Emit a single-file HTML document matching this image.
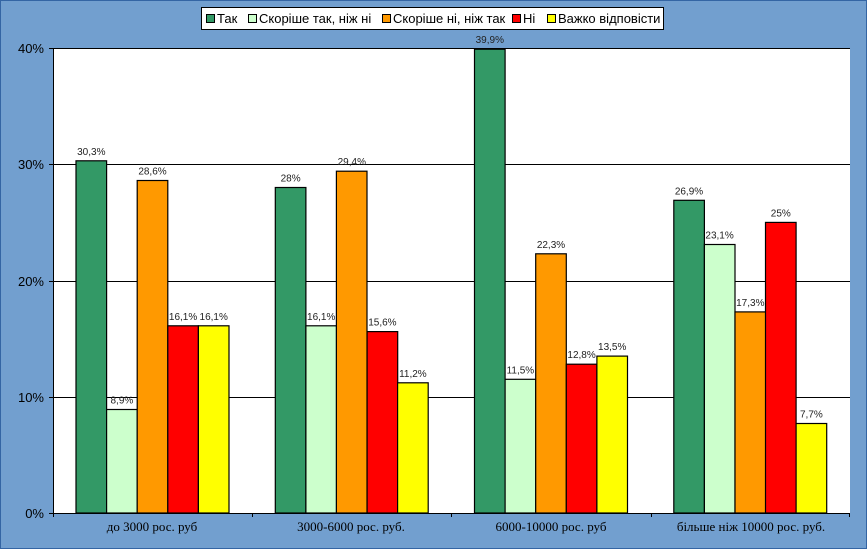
<!DOCTYPE html>
<html><head><meta charset="utf-8"><style>
html,body{margin:0;padding:0;background:#729fcf;}
svg{display:block;font-family:"Liberation Sans",sans-serif;}
</style></head><body>
<svg width="867" height="549" xmlns="http://www.w3.org/2000/svg">
<rect x="0.5" y="0.5" width="866" height="548" fill="#729fcf" stroke="#3465a4"/>
<rect x="53" y="48" width="797" height="465" fill="#fff"/>
<g stroke="#000" stroke-width="1">
<line x1="53" y1="397.5" x2="850" y2="397.5"/>
<line x1="53" y1="281.5" x2="850" y2="281.5"/>
<line x1="53" y1="164.5" x2="850" y2="164.5"/>
<line x1="53" y1="48.5" x2="850" y2="48.5"/>
<line x1="53.5" y1="48" x2="53.5" y2="517"/>
<line x1="49" y1="513.5" x2="850" y2="513.5"/>
<line x1="49" y1="397.5" x2="53" y2="397.5"/>
<line x1="49" y1="281.5" x2="53" y2="281.5"/>
<line x1="49" y1="164.5" x2="53" y2="164.5"/>
<line x1="49" y1="48.5" x2="53" y2="48.5"/>
<line x1="252.5" y1="513" x2="252.5" y2="517"/>
<line x1="451.5" y1="513" x2="451.5" y2="517"/>
<line x1="651.5" y1="513" x2="651.5" y2="517"/>
<line x1="849.5" y1="513" x2="849.5" y2="517"/>
</g>
<g font-size="13" fill="#000" text-anchor="end">
<text x="44" y="518">0%</text><text x="44" y="402">10%</text><text x="44" y="286">20%</text><text x="44" y="169">30%</text><text x="44" y="53">40%</text>
</g>
<g font-family="Liberation Serif,serif" font-size="13" text-anchor="middle">
<text x="152" y="531">до 3000 рос. руб</text>
<text x="351" y="531">3000-6000 рос. руб.</text>
<text x="551" y="531">6000-10000 рос. руб</text>
<text x="751" y="531">більше ніж 10000 рос. руб.</text>
</g>
<g id="bars" stroke="#000" stroke-width="1.2"></g>
<g id="labels" font-size="10" fill="#222" text-anchor="middle"></g>
<rect x="201.5" y="7.5" width="462" height="22" fill="#fff" stroke="#000"/>
<g stroke="#000" stroke-width="1">
<rect x="206.5" y="14.5" width="8" height="8" fill="#339966"/>
<rect x="248.5" y="14.5" width="8" height="8" fill="#ccffcc"/>
<rect x="382.5" y="14.5" width="8" height="8" fill="#ff9900"/>
<rect x="512.5" y="14.5" width="8" height="8" fill="#ff0000"/>
<rect x="547.5" y="14.5" width="8" height="8" fill="#ffff00"/>
</g>
<g font-size="13" fill="#000">
<text x="217" y="23">Так</text>
<text x="259" y="23">Скоріше так, ніж ні</text>
<text x="393" y="23">Скоріше ні, ніж так</text>
<text x="523" y="23">Ні</text>
<text x="558" y="23">Важко відповісти</text>
</g>
<script>
var data=[[30.3,8.9,28.6,16.1,16.1],[28,16.1,29.4,15.6,11.2],[39.9,11.5,22.3,12.8,13.5],[26.9,23.1,17.3,25,7.7]];
var cols=["#339966","#ccffcc","#ff9900","#ff0000","#ffff00"];
var b=document.getElementById("bars"),l=document.getElementById("labels"),ns="http://www.w3.org/2000/svg";
for(var g=0;g<4;g++)for(var i=0;i<5;i++){
var v=data[g][i],x=53+g*199.25+23+i*30.6,y=513-v*11.625;
var r=document.createElementNS(ns,"rect");r.setAttribute("x",x.toFixed(1));r.setAttribute("y",y.toFixed(1));r.setAttribute("width","30.6");r.setAttribute("height",(513-y).toFixed(1));r.setAttribute("fill",cols[i]);b.appendChild(r);
var t=document.createElementNS(ns,"text");t.setAttribute("x",(x+15.3).toFixed(1));t.setAttribute("y",(y-6).toFixed(1));t.textContent=(""+v).replace(".",",")+"%";l.appendChild(t);}
</script>
</svg>
</body></html>
